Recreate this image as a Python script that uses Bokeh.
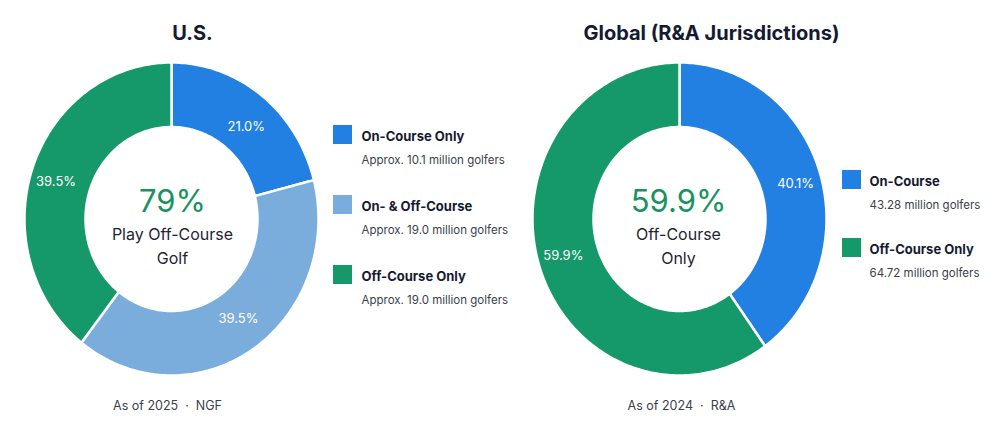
import math
from bokeh.plotting import figure
from bokeh.models import ColumnDataSource, Range1d
from bokeh.core.properties import value
from bokeh.embed import file_html
from bokeh.resources import INLINE

# ---- data ----
us_title = "U.S."
us_categories = ["On-Course Only", "On- & Off-Course", "Off-Course Only"]
us_values = [21.0, 39.5, 39.5]
us_notes = ["Approx. 10.1 million golfers", "Approx. 19.0 million golfers", "Approx. 19.0 million golfers"]
us_center_value = "79%"
us_center_lines = ["Play Off-Course", "Golf"]
us_footer = "As of 2025 \u00a0·\u00a0 NGF"

gl_title = "Global (R&A Jurisdictions)"
gl_categories = ["On-Course", "Off-Course Only"]
gl_values = [40.1, 59.9]
gl_notes = ["43.28 million golfers", "64.72 million golfers"]
gl_center_value = "59.9%"
gl_center_lines = ["Off-Course", "Only"]
gl_footer = "As of 2024 \u00a0·\u00a0 R&A"

BLUE = "#2180e2"
LIGHT = "#7aaddc"
GREEN = "#15996a"
us_colors = [BLUE, LIGHT, GREEN]
gl_colors = [BLUE, GREEN]

W, H = 1000, 430
FONT = "Inter"
DARK = "#151a30"
GREY = "#3a3f4a"

p = figure(width=W, height=H, x_range=Range1d(0, W), y_range=Range1d(0, H),
           output_backend="svg", toolbar_location=None, min_border=0)
p.axis.visible = False
p.grid.visible = False
p.outline_line_color = None
p.background_fill_color = "white"
p.border_fill_color = "white"


def Y(ypx):
    return H - ypx


def txt(x, y, s, size, color, style="normal", align="center", baseline="middle"):
    p.text(x=[x], y=[Y(y)], text=[s], text_font=value(FONT), text_font_size=f"{size}px",
           text_color=color, text_font_style=style, text_align=align, text_baseline=baseline)


def donut(cx, cy, values, colors, rx_in=86, rx_out=147, ry_in=92, ry_out=156.5,
          lrx=122, lry=118):
    total = sum(values)
    xs, ys, lx, ly, labs = [], [], [], [], []
    cum = 0.0
    cyd = Y(cy)
    for v in values:
        a0 = math.pi / 2 - cum / total * 2 * math.pi
        cum += v
        a1 = math.pi / 2 - cum / total * 2 * math.pi
        n = max(8, int(abs(a1 - a0) / (2 * math.pi) * 360))
        angs = [a0 + (a1 - a0) * k / n for k in range(n + 1)]
        px = [cx + rx_out * math.cos(a) for a in angs] + [cx + rx_in * math.cos(a) for a in reversed(angs)]
        py = [cyd + ry_out * math.sin(a) for a in angs] + [cyd + ry_in * math.sin(a) for a in reversed(angs)]
        xs.append(px)
        ys.append(py)
        mid = (a0 + a1) / 2
        lx.append(cx + lrx * math.cos(mid))
        ly.append(cyd + lry * math.sin(mid))
        labs.append(f"{v:.1f}%")
    src = ColumnDataSource(dict(xs=xs, ys=ys, color=colors))
    p.patches(xs="xs", ys="ys", fill_color="color", line_color="white", line_width=2.5,
              line_join="miter", source=src)
    p.text(x=lx, y=ly, text=labs, text_font=value(FONT), text_font_size="13px",
           text_color="white", text_align="center", text_baseline="middle")


# left donut
donut(171, 218.5, us_values, us_colors)
txt(192, 32, us_title, 20, DARK, "bold")
txt(172, 200, us_center_value, 31, "#18935f")
txt(172, 233, us_center_lines[0], 16, "#1f2433")
txt(172, 257, us_center_lines[1], 16, "#1f2433")
txt(167, 405, us_footer, 12.5, GREY)

for i, (c, n, col) in enumerate(zip(us_categories, us_notes, us_colors)):
    y0 = 134 + i * 70
    p.rect(x=[342], y=[Y(y0)], width=19, height=19, fill_color=col, line_color=None)
    txt(361, y0 + 1, c, 13, DARK, "bold", align="left")
    txt(361, y0 + 25, n, 11.5, GREY, align="left")

# right donut
donut(679, 218.5, gl_values, gl_colors)
txt(711, 32, gl_title, 20, DARK, "bold")
txt(678, 200, gl_center_value, 31, "#18935f")
txt(678, 233, gl_center_lines[0], 16, "#1f2433")
txt(678, 257, gl_center_lines[1], 16, "#1f2433")
txt(681, 405, gl_footer, 12.5, GREY)

for i, (c, n, col) in enumerate(zip(gl_categories, gl_notes, gl_colors)):
    y0 = 179 + i * 68
    p.rect(x=[851], y=[Y(y0)], width=19, height=19, fill_color=col, line_color=None)
    txt(869, y0 + 1, c, 13, DARK, "bold", align="left")
    txt(869, y0 + 25, n, 11.5, GREY, align="left")

open("out.html", "w").write(file_html(p, INLINE))
